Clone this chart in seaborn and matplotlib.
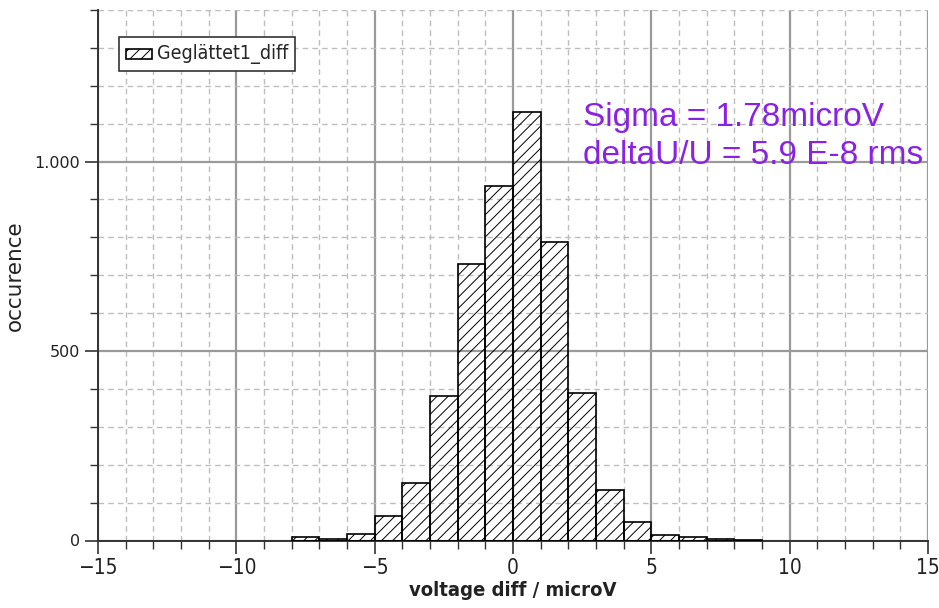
import numpy as np
import pandas as pd
import matplotlib
matplotlib.use("Agg")
import matplotlib.pyplot as plt
from matplotlib import font_manager as fm
from matplotlib.ticker import MultipleLocator, FixedLocator, FixedFormatter
import seaborn as sns

# Histogram of smoothed voltage differences (1 microV bins)
bin_left = [-8, -7, -6, -5, -4, -3, -2, -1, 0, 1, 2, 3, 4, 5, 6, 7, 8]
counts = [8, 4, 17, 65, 152, 381, 731, 936, 1131, 787, 388, 133, 49, 14, 8, 4, 2]
series_name = "Geglättet1_diff"

y_ticks = [0, 500, 1000]
y_tick_labels = ["0", "500", "1.000"]
x_ticks = [-15, -10, -5, 0, 5, 10, 15]
x_tick_labels = ["\u221215", "\u221210", "\u22125", "0", "5", "10", "15"]

sigma_text = "Sigma = 1.78microV\ndeltaU/U = 5.9 E-8 rms"

sns.set_style("white")
plt.rcParams["hatch.linewidth"] = 0.7
plt.rcParams["hatch.color"] = "black"


def narrow_font(weight="normal"):
    """Pick an installed condensed/narrow sans font, falling back to Liberation Sans."""
    want_bold = weight == "bold"
    for f in fm.fontManager.ttflist:
        name = f.name.lower()
        fname = f.fname.lower()
        narrowish = ("narrow" in name or "condensed" in name or "condensed" in fname
                     or "narrow" in fname or str(f.stretch) in ("condensed", "semi-condensed", "75", "87"))
        if not narrowish or "mono" in name or "serif" in name and "sans" not in name:
            continue
        is_bold = str(f.weight) in ("bold", "700", "600", "semibold")
        italic = f.style != "normal"
        if is_bold == want_bold and not italic:
            return fm.FontProperties(fname=f.fname)
    return fm.FontProperties(family="Liberation Sans", weight=weight)


fp_tick = narrow_font("normal")
fp_bold = narrow_font("bold")

edges = bin_left + [bin_left[-1] + 1]
df = pd.DataFrame({"voltage": np.array(bin_left) + 0.5, "count": counts})

fig = plt.figure(figsize=(9.39, 6.08), dpi=100)
ax = fig.add_axes([98 / 939, (608 - 540.5) / 608, (928 - 98) / 939, (540.5 - 10) / 608])

sns.histplot(data=df, x="voltage", weights="count", bins=edges, ax=ax,
             stat="count", element="bars", fill=False, color="black",
             linewidth=1.2, label=series_name)
for p in ax.patches:
    p.set_hatch("///")
    p.set_edgecolor("black")
    p.set_facecolor("none")
    p.set_zorder(3)

ax.set_xlim(-15, 15)
ax.set_ylim(0, 1400)

ax.xaxis.set_major_locator(FixedLocator(x_ticks))
ax.xaxis.set_major_formatter(FixedFormatter(x_tick_labels))
ax.xaxis.set_minor_locator(MultipleLocator(1))
ax.yaxis.set_major_locator(FixedLocator(y_ticks))
ax.yaxis.set_major_formatter(FixedFormatter(y_tick_labels))
ax.yaxis.set_minor_locator(MultipleLocator(100))

# grid: solid at major ticks, dashed at minor ticks
ax.grid(which="major", color="#9a9a9a", linewidth=1.6, linestyle="-", zorder=1)
ax.grid(which="minor", color="#bdbdbd", linewidth=1.0, linestyle=(0, (4, 3)), zorder=1)
ax.set_axisbelow(True)

for side in ("top", "right"):
    ax.spines[side].set_visible(False)
for side in ("left", "bottom"):
    ax.spines[side].set_color("#333333")
    ax.spines[side].set_linewidth(1.4)

ax.tick_params(axis="both", which="major", direction="out", length=9.5, width=1.2,
               color="#333333", left=True, bottom=True)
ax.tick_params(axis="both", which="minor", direction="out", length=6, width=1.0,
               color="#333333", left=True, bottom=True)
ax.tick_params(axis="y", which="major", pad=3.5, labelsize=11.5, labelcolor="#222222")
ax.tick_params(axis="x", which="major", pad=3)
for lbl in ax.get_xticklabels():
    lbl.set_fontproperties(fp_tick)
    lbl.set_fontsize(15)
    lbl.set_color("#222222")

ax.set_xlabel("voltage diff / microV", fontproperties=fp_bold, color="#222222", labelpad=2)
ax.xaxis.label.set_fontsize(14.5)
ax.set_ylabel("occurence", fontsize=15.5, color="#222222")
ax.yaxis.set_label_coords((25 - 98) / 830, 0.5)

leg = ax.legend(loc="upper left", bbox_to_anchor=(21 / 830, 1 - 27 / 530),
                borderaxespad=0, fancybox=False, framealpha=1, edgecolor="#333333",
                prop=fp_tick, handlelength=1.9, handleheight=0.75,
                borderpad=0.5, handletextpad=0.35)
for t in leg.get_texts():
    t.set_fontsize(14)
leg.get_frame().set_linewidth(1.2)

fig.text(583 / 939, 1 - 102 / 608, sigma_text, color="#8a22e6", fontsize=24,
         family=["Liberation Sans", "DejaVu Sans"], va="top", ha="left",
         linespacing=1.3)

fig.savefig("out.png", dpi=100, facecolor="white")
